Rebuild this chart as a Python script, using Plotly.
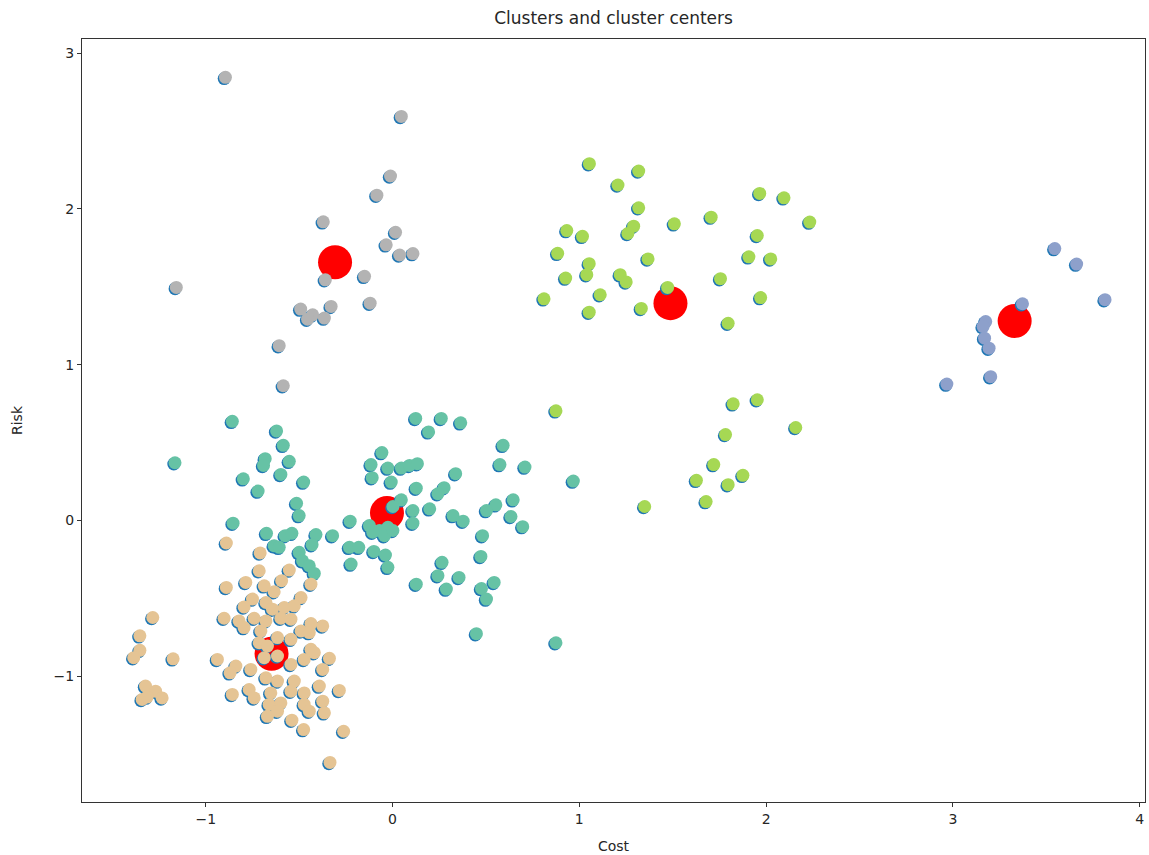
import plotly.graph_objects as go

# ---- cluster members (Cost, Risk) ----
gray_x = [-0.895, 0.047, -0.011, -0.084, -0.371, 0.016, -0.034, 0.038, 0.109, -0.150,
          -0.360, -1.158, -0.120, -0.492, -0.329, -0.428, -0.365, -0.455, -0.607, -0.585]
gray_y = [2.844, 2.593, 2.211, 2.088, 1.917, 1.850, 1.769, 1.704, 1.713, 1.567,
          1.545, 1.496, 1.395, 1.357, 1.374, 1.320, 1.299, 1.292, 1.122, 0.865]

green_x = [1.054, 1.318, 1.207, 1.318, 1.509, 1.706, 1.966, 2.096, 2.234, 1.291,
           1.260, 0.933, 1.017, 1.953, 0.884, 1.053, 1.368, 1.908, 2.025, 0.927,
           1.040, 1.219, 1.251, 1.756, 1.473, 1.112, 0.811, 1.971, 1.053, 1.332,
           1.797,
           0.875, 1.824, 1.953, 2.159, 1.783, 1.720, 1.876, 1.627, 1.797, 1.679, 1.350]
green_y = [2.290, 2.243, 2.153, 2.007, 1.904, 1.947, 2.099, 2.071, 1.915, 1.889,
           1.842, 1.861, 1.824, 1.829, 1.715, 1.648, 1.679, 1.692, 1.679, 1.556,
           1.578, 1.578, 1.531, 1.552, 1.496, 1.449, 1.423, 1.431, 1.337, 1.361,
           1.266,
           0.704, 0.749, 0.775, 0.597, 0.552, 0.359, 0.290, 0.258, 0.230, 0.122, 0.090]

blue_x = [3.546, 3.663, 3.815, 3.373, 3.176, 3.162, 3.170, 3.194, 3.203, 2.968]
blue_y = [1.745, 1.646, 1.417, 1.391, 1.277, 1.245, 1.170, 1.106, 0.923, 0.876]

teal_x = [0.124, 0.261, 0.365, 0.193, 0.592, -0.057, 0.575, 0.709, -0.115, -0.025,
          0.047, 0.091, 0.133, -0.109, -0.007, 0.338, 0.127, 0.276, 0.243, 0.646,
          0.553, 0.503, 0.047, 0.002, 0.109, 0.199, 0.324, 0.378, 0.634, 0.697,
          0.109, -0.124, -0.070, -0.025, -0.043, 0.002, -0.106, 0.482, 0.473, -0.100,
          -0.038, -0.025, 0.265, 0.243, 0.356, 0.127, 0.288, 0.476, 0.544, 0.503,
          0.449,
          -0.858, -0.621, -0.585, -1.165, -0.682, -0.691, -0.553, -0.799, -0.598, -0.476,
          -0.720, -0.514, -0.500, -0.854, -0.675, -0.575, -0.539, -0.634, -0.607, -0.410,
          -0.431, -0.321, -0.500, -0.482, -0.446, -0.419, -0.227, -0.231, -0.181, -0.222,
          0.968, 0.875]
teal_y = [0.655, 0.655, 0.627, 0.569, 0.483, 0.436, 0.359, 0.343, 0.359, 0.337,
          0.337, 0.354, 0.365, 0.275, 0.247, 0.301, 0.208, 0.211, 0.172, 0.133,
          0.101, 0.064, 0.133, 0.090, 0.064, 0.075, 0.032, -0.004, 0.026, -0.039,
          -0.017, -0.032, -0.064, -0.043, -0.097, -0.064, -0.075, -0.097, -0.230, -0.198,
          -0.221, -0.300, -0.268, -0.354, -0.365, -0.408, -0.440, -0.436, -0.397, -0.504,
          -0.726,
          0.637, 0.575, 0.483, 0.371, 0.397, 0.354, 0.380, 0.268, 0.296, 0.247,
          0.189, 0.111, 0.032, -0.017, -0.082, -0.097, -0.082, -0.161, -0.172, -0.090,
          -0.155, -0.097, -0.204, -0.258, -0.290, -0.339, -0.004, -0.172, -0.172, -0.279,
          0.253, -0.784]

tan_x = [-0.890, -0.709, -0.714, -0.553, -0.786, -0.890, -0.687, -0.594, -0.437, -0.634,
         -0.750, -0.490, -0.795, -0.678, -0.580, -0.526, -0.643, -0.902, -0.822, -0.741,
         -0.678, -0.598, -0.544, -0.437, -0.374, -0.795, -0.705, -0.490, -0.446, -0.616,
         -0.544, -0.714, -0.437, -0.670,
         -0.938, -0.839, -0.870, -0.759, -0.687, -0.616, -0.544, -0.473, -0.419, -0.338,
         -0.374, -0.678, -0.616, -0.526, -0.858, -0.768, -0.741, -0.652, -0.544, -0.473,
         -0.392, -0.285, -0.374, -0.661, -0.598, -0.473, -0.670, -0.616, -0.446, -0.365,
         -0.539, -0.476, -0.262, -0.335,
         -1.284, -1.353, -1.353, -1.386, -1.175, -1.323, -1.269, -1.234, -1.341, -1.314]
tan_y = [-0.144, -0.208, -0.322, -0.318, -0.397, -0.429, -0.419, -0.386, -0.408, -0.457,
         -0.504, -0.494, -0.554, -0.526, -0.558, -0.547, -0.569, -0.627, -0.644, -0.627,
         -0.644, -0.627, -0.633, -0.661, -0.676, -0.687, -0.708, -0.708, -0.719, -0.751,
         -0.762, -0.784, -0.826, -0.805,
         -0.891, -0.934, -0.977, -0.955, -0.880, -0.869, -0.923, -0.891, -0.848, -0.884,
         -0.955, -1.009, -1.030, -1.030, -1.116, -1.084, -1.138, -1.106, -1.095, -1.106,
         -1.062, -1.090, -1.159, -1.180, -1.170, -1.180, -1.256, -1.223, -1.223, -1.234,
         -1.281, -1.341, -1.352, -1.552,
         -0.622, -0.740, -0.833, -0.880, -0.887, -1.062, -1.095, -1.138, -1.148, -1.133]

# ---- cluster centres ----
center_x = [-0.308, 1.488, 3.331, -0.030, -0.648]
center_y = [1.657, 1.395, 1.281, 0.049, -0.855]

# ---- axis ticks ----
x_ticks = [-1, 0, 1, 2, 3, 4]
x_tick_text = ["\u22121", "0", "1", "2", "3", "4"]
y_ticks = [-1, 0, 1, 2, 3]
y_tick_text = ["\u22121", "0", "1", "2", "3"]

X_RANGE = [-1.663, 4.029]
Y_RANGE = [-1.806, 3.090]
# small shift used for the plain blue layer sitting underneath the coloured one
DX, DY = 0.0065, 0.008

groups = [
    (gray_x, gray_y, "#b3b3b3"),
    (green_x, green_y, "#a6d854"),
    (blue_x, blue_y, "#8da0cb"),
    (teal_x, teal_y, "#66c2a5"),
    (tan_x, tan_y, "#e5c494"),
]
all_x = [v for g in groups for v in g[0]]
all_y = [v for g in groups for v in g[1]]

fig = go.Figure()

# centres (lowest layer)
fig.add_trace(go.Scatter(x=center_x, y=center_y, mode="markers",
                         marker=dict(size=34, color="#ff0000", line=dict(width=0)),
                         xaxis="x", yaxis="y", showlegend=False))

# plain blue scatter of every point
fig.add_trace(go.Scatter(x=all_x, y=all_y, mode="markers",
                         marker=dict(size=13, color="#1f77b4", line=dict(width=0)),
                         xaxis="x2", yaxis="y2", showlegend=False))

# coloured by cluster label
for gx, gy, col in groups:
    fig.add_trace(go.Scatter(x=gx, y=gy, mode="markers",
                             marker=dict(size=13, color=col, line=dict(width=0)),
                             xaxis="x3", yaxis="y3", showlegend=False))

font = dict(family="DejaVu Sans", size=14, color="#262626")
hidden = dict(visible=False, showgrid=False, zeroline=False, fixedrange=True)

fig.update_layout(
    width=1149, height=855,
    margin=dict(l=82, r=4, t=39, b=53),
    paper_bgcolor="white", plot_bgcolor="white",
    font=font,
    title=dict(text="Clusters and cluster centers", x=0.534, xanchor="center",
               y=0.979, yanchor="middle", font=dict(family="DejaVu Sans", size=17, color="#262626")),
    xaxis=dict(range=X_RANGE, tickvals=x_ticks, ticktext=x_tick_text,
               showgrid=False, zeroline=False, showline=True, mirror=True,
               linecolor="#333333", linewidth=1.2, ticks="outside", ticklen=4,
               tickcolor="#333333", tickfont=font,
               title=dict(text="Cost", font=font, standoff=15)),
    yaxis=dict(range=Y_RANGE, tickvals=y_ticks, ticktext=y_tick_text,
               showgrid=False, zeroline=False, showline=True, mirror=True,
               linecolor="#333333", linewidth=1.2, ticks="outside", ticklen=4,
               tickcolor="#333333", tickfont=font,
               title=dict(text="Risk", font=font, standoff=27)),
    xaxis2=dict(range=[X_RANGE[0] + DX, X_RANGE[1] + DX], overlaying="x", **hidden),
    yaxis2=dict(range=[Y_RANGE[0] + DY, Y_RANGE[1] + DY], overlaying="y", **hidden),
    xaxis3=dict(range=X_RANGE, overlaying="x", **hidden),
    yaxis3=dict(range=Y_RANGE, overlaying="y", **hidden),
)

fig.write_html("out.html")
